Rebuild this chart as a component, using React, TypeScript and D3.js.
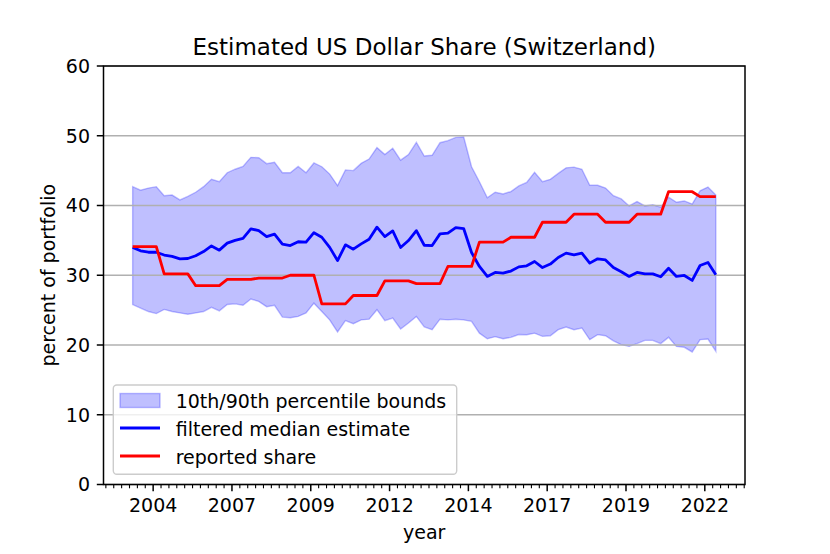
import React from 'react';
import * as d3 from 'd3';

// quarterly observations, first one sits at ~2003.6
const firstQuarter = 2003.6;

const medianEstimate = [
  34.0, 33.5, 33.3, 33.3, 32.9, 32.7, 32.35, 32.4, 32.8, 33.4, 34.2, 33.6,
  34.6, 35.0, 35.3, 36.65, 36.4, 35.55, 35.9, 34.45, 34.26, 34.8, 34.74, 36.1,
  35.45, 34.0, 32.1, 34.36, 33.74, 34.5, 35.17, 36.9, 35.55, 36.36, 33.98, 34.98,
  36.4, 34.3, 34.26, 35.93, 36.03, 36.84, 36.7, 33.26, 31.26, 29.83, 30.4, 30.3,
  30.6, 31.2, 31.35, 31.97, 31.1, 31.6, 32.55, 33.17, 32.93, 33.17, 31.74, 32.36,
  32.2, 31.1, 30.5, 29.83, 30.4, 30.2, 30.2, 29.78, 31.0, 29.83, 29.97, 29.26,
  31.4, 31.83, 30.07,
];

const upperBound = [
  42.7, 42.2, 42.5, 42.7, 41.4, 41.5, 40.8, 41.3, 41.9, 42.7, 43.75, 43.4,
  44.7, 45.2, 45.6, 46.9, 46.85, 46.0, 46.2, 44.7, 44.7, 45.6, 44.7, 46.1,
  45.56, 44.5, 42.85, 45.1, 45.0, 46.04, 46.66, 48.3, 47.3, 48.2, 46.5, 47.3,
  49.05, 47.1, 47.2, 49.0, 49.3, 49.76, 49.86, 45.56, 43.4, 41.1, 41.9, 41.65,
  42.0, 42.8, 43.3, 44.75, 43.4, 43.75, 44.6, 45.4, 45.5, 45.2, 42.9, 42.9,
  42.5, 41.4, 40.94, 39.94, 40.56, 39.94, 40.1, 39.75, 41.2, 40.46, 40.65, 40.2,
  42.1, 42.65, 41.5,
];

const lowerBound = [
  25.8, 25.3, 24.8, 24.5, 25.1, 24.8, 24.6, 24.4, 24.6, 24.8, 25.4, 24.9,
  25.8, 25.9, 25.7, 26.6, 26.25, 25.5, 25.7, 24.0, 23.9, 24.1, 24.6, 26.0,
  24.8, 23.6, 21.87, 23.5, 23.06, 23.6, 23.7, 25.06, 23.5, 23.87, 22.3, 23.15,
  24.1, 22.6, 22.2, 23.7, 23.6, 23.7, 23.6, 23.4, 21.7, 20.9, 21.2, 20.9,
  21.1, 21.5, 21.48, 21.7, 21.24, 21.33, 22.2, 22.58, 22.2, 22.44, 20.77, 21.48,
  21.33, 20.6, 20.05, 19.8, 20.2, 20.67, 20.67, 20.2, 21.1, 19.8, 19.67, 19.0,
  20.77, 20.86, 19.1,
];

const reportedShare = [
  34.1, 34.1, 34.1, 34.1, 30.2, 30.2, 30.2, 30.2, 28.5, 28.5, 28.5, 28.5,
  29.4, 29.4, 29.4, 29.4, 29.6, 29.6, 29.6, 29.6, 30.0, 30.0, 30.0, 30.0,
  25.9, 25.9, 25.9, 25.9, 27.1, 27.1, 27.1, 27.1, 29.2, 29.2, 29.2, 29.2,
  28.8, 28.8, 28.8, 28.8, 31.26, 31.26, 31.26, 31.26, 34.74, 34.74, 34.74, 34.74,
  35.45, 35.45, 35.45, 35.45, 37.6, 37.6, 37.6, 37.6, 38.75, 38.75, 38.75, 38.75,
  37.6, 37.6, 37.6, 37.6, 38.75, 38.75, 38.75, 38.75, 41.98, 41.98, 41.98, 41.98,
  41.27, 41.27, 41.27,
];

const xTickValues = [2004.25, 2006.75, 2009.25, 2011.75, 2014.25, 2016.75, 2019.25, 2021.75];
const xTickLabels = ['2004', '2007', '2009', '2012', '2014', '2017', '2019', '2022'];
const yTicks = [0, 10, 20, 30, 40, 50, 60];

const legendItems = [
  { label: '10th/90th percentile bounds', kind: 'patch' },
  { label: 'filtered median estimate', kind: 'line', color: '#0000ff' },
  { label: 'reported share', kind: 'line', color: '#ff0000' },
];

export default function App() {
  const W = 830;
  const H = 554;
  const left = 103.5, right = 745, top = 66, bottom = 484.5;
  const font = '"DejaVu Sans", sans-serif';
  const fs = 19;

  const quarters = medianEstimate.map((_, i) => firstQuarter + i * 0.25);

  const x = d3.scaleLinear().domain([2002.675, 2023.025]).range([left, right]);
  const y = d3.scaleLinear().domain([0, 60]).range([bottom, top]);

  const band = d3
    .area<number>()
    .x((_, i) => x(quarters[i]))
    .y0((_, i) => y(lowerBound[i]))
    .y1((_, i) => y(upperBound[i]));

  const line = d3
    .line<number>()
    .x((_, i) => x(quarters[i]))
    .y((d) => y(d));

  // quarter-year minor ticks over the visible range
  const minorTicks = d3
    .range(Math.ceil(2002.675 * 4), Math.floor(2023.025 * 4) + 1)
    .map((q) => q / 4)
    .filter((v) => !xTickValues.includes(v));

  return (
    <svg width={W} height={H} style={{ display: 'block', position: 'absolute', left: 0, top: 0 }}>
      <rect width={W} height={H} fill="white" />

      {/* band */}
      <path
        d={band(medianEstimate) || ''}
        fill="#0000ff"
        fillOpacity={0.25}
        stroke="#0000ff"
        strokeOpacity={0.25}
        strokeWidth={1.4}
      />

      {/* grid */}
      {yTicks.map((t) => (
        <line key={'g' + t} x1={left} x2={right} y1={y(t)} y2={y(t)} stroke="#b0b0b0" strokeWidth={1.5} />
      ))}

      <path d={line(medianEstimate) || ''} fill="none" stroke="#0000ff" strokeWidth={2.8} strokeLinejoin="round" />
      <path d={line(reportedShare) || ''} fill="none" stroke="#ff0000" strokeWidth={2.8} strokeLinejoin="round" />

      {/* frame */}
      <rect x={left} y={top} width={right - left} height={bottom - top} fill="none" stroke="black" strokeWidth={1.5} />

      {/* y axis */}
      {yTicks.map((t) => (
        <g key={'y' + t}>
          <line x1={left - 6.7} x2={left} y1={y(t)} y2={y(t)} stroke="black" strokeWidth={1.5} />
          <text x={left - 13.5} y={y(t)} dy="0.36em" textAnchor="end" fontFamily={font} fontSize={fs}>
            {t}
          </text>
        </g>
      ))}

      {/* x axis */}
      {minorTicks.map((t) => (
        <line key={'m' + t} x1={x(t)} x2={x(t)} y1={bottom} y2={bottom + 3.8} stroke="black" strokeWidth={1.1} />
      ))}
      {xTickValues.map((t, i) => (
        <g key={'x' + t}>
          <line x1={x(t)} x2={x(t)} y1={bottom} y2={bottom + 6.7} stroke="black" strokeWidth={1.5} />
          <text x={x(t)} y={512} textAnchor="middle" fontFamily={font} fontSize={fs}>
            {xTickLabels[i]}
          </text>
        </g>
      ))}

      <text x={(left + right) / 2} y={538.5} textAnchor="middle" fontFamily={font} fontSize={fs}>
        year
      </text>
      <text
        transform={`translate(55, ${(top + bottom) / 2}) rotate(-90)`}
        textAnchor="middle"
        fontFamily={font}
        fontSize={fs}
      >
        percent of portfolio
      </text>
      <text x={(left + right) / 2} y={55} textAnchor="middle" fontFamily={font} fontSize={23}>
        Estimated US Dollar Share (Switzerland)
      </text>

      {/* legend */}
      <g>
        <rect x={113.3} y={385} width={343.4} height={89.3} rx={3.5} fill="white" fillOpacity={0.8} stroke="#cccccc" strokeWidth={1.4} />
        {legendItems.map((item, i) => {
          const cy = 400.5 + i * 28;
          return (
            <g key={item.label}>
              {item.kind === 'patch' ? (
                <rect
                  x={120}
                  y={cy - 7}
                  width={40}
                  height={14}
                  fill="#0000ff"
                  fillOpacity={0.25}
                  stroke="#0000ff"
                  strokeOpacity={0.25}
                  strokeWidth={1.4}
                />
              ) : (
                <line x1={120} x2={160} y1={cy - 0.5} y2={cy - 0.5} stroke={item.color} strokeWidth={2.8} />
              )}
              <text x={175.7} y={cy + 7} fontFamily={font} fontSize={fs}>
                {item.label}
              </text>
            </g>
          );
        })}
      </g>
    </svg>
  );
}
